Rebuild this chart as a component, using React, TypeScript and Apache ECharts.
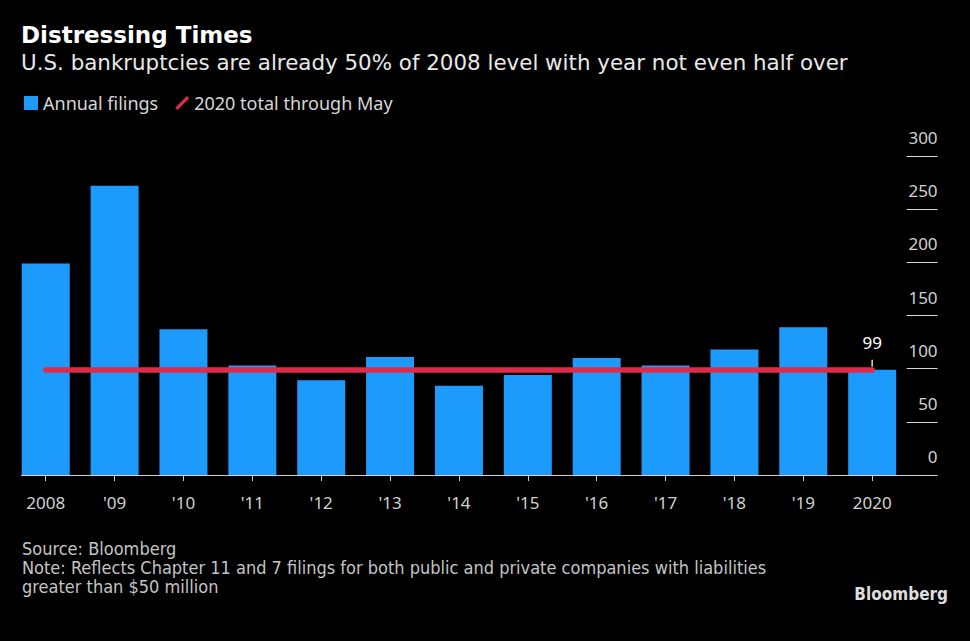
import React, { useEffect, useRef } from "react";
import * as echarts from "echarts";

const categories = ["2008", "'09", "'10", "'11", "'12", "'13", "'14", "'15", "'16", "'17", "'18", "'19", "2020"];
const filings = [199, 272, 137, 103, 89, 111, 84, 94, 110, 103, 118, 139, 99];
const ytd2020 = 99;
const yMin = 0;
const yMax = 300;
const yInterval = 50;

const titleText = "Distressing Times";
const subtitleText = "U.S. bankruptcies are already 50% of 2008 level with year not even half over";
const legendNames = ["Annual filings", "2020 total through May"];
const footerLines = [
  "Source: Bloomberg",
  "Note: Reflects Chapter 11 and 7 filings for both public and private companies with liabilities",
  "greater than $50 million",
];

const FONT = "'Noto Sans', 'DejaVu Sans', sans-serif";
const WIDE = "'DejaVu Sans', 'Noto Sans', sans-serif";
const NARROW = "'DejaVu Sans Condensed', 'Liberation Sans Narrow', sans-serif";
const BLUE = "#1d9bfd";
const RED = "#df2a4a";

export default function App() {
  const ref = useRef<HTMLDivElement>(null);
  useEffect(() => {
    document.body.style.margin = "0";
    document.body.style.background = "#000";
    const chart = echarts.init(ref.current!, null, { renderer: "svg" });
    chart.setOption({
      animation: false,
      backgroundColor: "#000",
      title: {
        text: titleText,
        subtext: subtitleText,
        left: 16,
        top: 18,
        itemGap: 6,
        textStyle: { fontFamily: WIDE, fontSize: 23, fontWeight: "bold", color: "#ffffff" },
        subtextStyle: { fontFamily: WIDE, fontSize: 21.4, color: "#e8e8e8" },
      },
      legend: {
        left: 19,
        top: 89,
        itemWidth: 14,
        itemHeight: 14,
        itemGap: 17,
        textStyle: { fontFamily: FONT, fontSize: 18, color: "#d6d6d6" },
        data: [
          { name: legendNames[0], icon: "rect" },
          { name: legendNames[1], icon: "path://M12.5,0 L15,2.5 L2.5,15 L0,12.5 Z" },
        ],
      },
      grid: { left: 11.3, right: 63.4, top: 156, bottom: 166, containLabel: false },
      xAxis: {
        type: "category",
        data: categories,
        axisLine: { show: false },
        axisTick: { show: true, alignWithLabel: true, length: 6, lineStyle: { color: "#cfcfcf" } },
        axisLabel: { fontFamily: FONT, fontSize: 17, color: "#d0d0d0", margin: 19 },
      },
      yAxis: {
        type: "value",
        position: "right",
        min: yMin,
        max: yMax,
        interval: yInterval,
        splitLine: { show: false },
        axisLine: { show: false },
        axisTick: { show: true, length: 31, lineStyle: { color: "#d8d8d8" } },
        axisLabel: {
          fontFamily: FONT,
          fontSize: 17,
          color: "#d0d0d0",
          align: "right",
          verticalAlign: "bottom",
          margin: 31,
          padding: [0, 0, 10, 0],
        },
      },
      series: [
        {
          name: legendNames[0],
          type: "bar",
          data: filings,
          barWidth: 48,
          itemStyle: { color: BLUE },
          z: 2,
        },
        {
          name: legendNames[1],
          type: "line",
          data: [],
          color: RED,
          itemStyle: { color: RED },
          z: 5,
          markLine: {
            silent: true,
            symbol: "none",
            z: 5,
            label: { show: false },
            lineStyle: { color: RED, width: 5.5, type: "solid", cap: "round" },
            data: [
              [
                { coord: [categories[0], ytd2020] },
                { coord: [categories[categories.length - 1], ytd2020] },
              ],
            ],
          },
          markPoint: {
            silent: true,
            symbol: "rect",
            symbolSize: [1.5, 7],
            symbolOffset: [0, -6.5],
            itemStyle: { color: "#dddddd" },
            label: {
              show: true,
              position: "top",
              distance: 9,
              formatter: "{c}",
              fontFamily: FONT,
              fontSize: 17,
              color: "#ffffff",
            },
            data: [{ coord: [categories[categories.length - 1], ytd2020], value: ytd2020 }],
          },
        },
      ],
      graphic: [
        {
          type: "line",
          shape: { x1: 21, y1: 475.5, x2: 937, y2: 475.5 },
          style: { stroke: "#d0d0d0", lineWidth: 1 },
          z: 1,
        },
        ...footerLines.map((t, i) => ({
          type: "text",
          left: 22,
          top: 539.5 + i * 19,
          style: { text: t, fontFamily: NARROW, fontSize: 18, fill: "#c4c4c4" },
        })),
        {
          type: "text",
          right: 22,
          top: 585.5,
          style: { text: "Bloomberg", fontFamily: NARROW, fontSize: 17, fontWeight: "bold", fill: "#dedede" },
        },
      ],
    });
    return () => chart.dispose();
  }, []);
  return <div ref={ref} style={{ width: 970, height: 641, background: "#000" }} />;
}
